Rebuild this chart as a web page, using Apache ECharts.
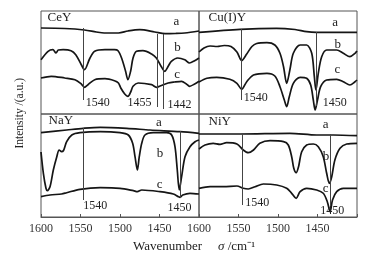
<!DOCTYPE html>
<html><head><meta charset="utf-8">
<script src="https://cdn.jsdelivr.net/npm/echarts@6/dist/echarts.min.js"></script>
<style>html,body{margin:0;padding:0;background:#fff}#c{width:377px;height:258px}</style>
</head><body><div id="c"></div>
<script>
// Wavenumber axis ticks
const tickValues = [1600, 1550, 1500, 1450];
const panelNames = ['CeY', 'Cu(I)Y', 'NaY', 'NiY'];
// [wavenumber, intensity (a.u.)]
const ceyA = [[1600,86],[1570,85.5],[1545,84],[1530,82],[1520,81],[1502,81],[1490,83],[1475,84.3],[1456,82],[1443,80.3],[1430,80.5],[1418,81],[1400,83]];
const ceyB = [[1600,54.3],[1591,62.7],[1585,64.3],[1581,61],[1578,64],[1572,64.3],[1562,63.3],[1556,59.3],[1549,49.3],[1545,44.3],[1538,56],[1532,62.7],[1519,64.3],[1507,64.3],[1502.5,63.3],[1498,56],[1493,43],[1490,34.3],[1486.5,43],[1483.5,56],[1479,62.7],[1471,63.3],[1460,60],[1454,56],[1448,47.7],[1443.4,42.7],[1439,47.7],[1435,52.7],[1427,56],[1418,54.3],[1412,51],[1405.5,53.3],[1400,56]];
const ceyC = [[1600,36],[1587,37.7],[1570,36],[1557,34.3],[1549,30],[1545,26.7],[1540.5,29.3],[1532,34.3],[1519,35.3],[1507,33.3],[1502,31],[1499,26],[1494,20],[1490,17.7],[1486.5,22],[1483.5,27.7],[1477,31],[1460,29.3],[1454,26.7],[1450,27.7],[1439,31],[1431,32],[1422,32.7],[1416,30],[1412,27.7],[1405.5,30],[1400,32.7]];
const cuyA = [[1600,81.7],[1548,84.7],[1502,85.7],[1478.5,84.5],[1463.7,82.3],[1451,81.7],[1400,81.7]];
const cuyB = [[1600,62],[1593.7,66],[1586,68],[1577,67.5],[1568,68.5],[1559.5,67.5],[1552,62],[1546,53.5],[1539.6,60],[1533,67.5],[1527,70.5],[1514,71.3],[1504,69],[1497.5,60.7],[1493,47.3],[1489,30.7],[1485,44],[1480.6,60.7],[1472,69],[1463.7,69],[1457.3,60.7],[1454,37.3],[1452,24],[1449,40.7],[1444.7,57.3],[1438.4,64],[1425.7,64],[1417.3,60.7],[1409,57.3],[1402.5,60.7],[1400,63]];
const cuyC = [[1600,32],[1590,35.7],[1577.6,36.7],[1561,34.7],[1552,30.7],[1546,24.7],[1539.6,32.3],[1531,39],[1514,40.7],[1504,38],[1497.5,27.3],[1492,14],[1489,7.3],[1485.7,17.3],[1480.6,30.7],[1472,36.7],[1463.7,35.7],[1458.6,29],[1455.3,14],[1453,4],[1450,14],[1446,27.3],[1438.4,34],[1425.7,34.7],[1417.3,32.3],[1409,29],[1402.5,32.3],[1400,34]];
const nayA = [[1600,84.3],[1567.5,87],[1546.5,88.7],[1525,89.7],[1491.5,88.7],[1462,87],[1424,85.3],[1400,83.7]];
const nayB = [[1600,65],[1597,43.7],[1593.7,28.7],[1592,26.3],[1588.6,30.3],[1584.4,47],[1580,60.3],[1577,67],[1574,65.3],[1571.5,66.5],[1567.5,75.3],[1561,82],[1550.6,84.3],[1525,85.3],[1500,84.3],[1489.5,82],[1484,73.7],[1481,60.3],[1478,47],[1475.6,60.3],[1472.5,73.7],[1468.4,82],[1458,84.3],[1441,84.3],[1434.6,82],[1430.4,70.3],[1427.5,47],[1425,27],[1422,40.3],[1417.7,60.3],[1411.4,70.3],[1405,75.3],[1400,77]];
const nayC = [[1600,20.3],[1588.6,22],[1574,23],[1567.5,24.3],[1550.6,27.7],[1525,29.3],[1500,28.7],[1483,26.3],[1478,25.3],[1472.5,27],[1449.4,25.3],[1432.5,23],[1426,20.3],[1424,19.7],[1420.6,22],[1411.4,23.7],[1400,23]];
const niyA = [[1600,83],[1548,83],[1485,83.7],[1451,82],[1430,82],[1400,81.3]];
const niyB = [[1600,68],[1592.4,72],[1582,73.7],[1573.4,72.7],[1565,74.3],[1552,73],[1544,67],[1537.6,64.3],[1531,67],[1523,73.7],[1510,76.3],[1493,75.3],[1487,72],[1482.7,60.3],[1480,48.7],[1477,44.3],[1474,50.3],[1470,65.3],[1463.7,72],[1455.3,73],[1449,70.3],[1442.7,60.3],[1438.4,43.7],[1435,33.7],[1432,40.3],[1428,57],[1421.5,68.7],[1413,73],[1400,73.7]];
const niyC = [[1600,28.7],[1586,30.3],[1569,30.3],[1552,31],[1544,28.7],[1537.6,28],[1529,30.3],[1518.6,33],[1501.6,32],[1489,28.7],[1482.7,23.7],[1477,18.7],[1472,25.3],[1463.7,28.7],[1451,27],[1442.7,23.7],[1437.6,15.3],[1434,5.3],[1431,17],[1425.7,25.3],[1417.3,28.7],[1400,28.7]];
// marker lines: [wavenumber, top, bottom]
const ceyLines = [[1546.5,86,14],[1453,80,7],[1445,80,5]];
const cuyLines = [[1546,85,14],[1452,82,8]];
const nayLines = [[1547,89,17],[1424,86,19]];
const niyLines = [[1545,83,12],[1434,83,5]];
// text annotations: [text, wavenumber, intensity]
const ceyTexts = [['CeY',1592.4,96],['a',1433,92],['b',1432,66],['c',1432,39],['1540',1544,11],['1455',1491,11],['1442',1440.5,9]];
const cuyTexts = [['Cu(I)Y',1588.6,96],['a',1432,91.3],['b',1429,69],['c',1429,44],['1540',1544,15.7],['1450',1444,11]];
const nayTexts = [['NaY',1591,96],['a',1455,94.3],['b',1454,63.7],['c',1454,32],['1540',1547,11],['1450',1440.5,9]];
const niyTexts = [['NiY',1588.6,95],['a',1444,92],['b',1444,60.3],['c',1444,28.7],['1540',1542,13.7],['1450',1447,6.3]];

const FONT = '"Liberation Serif","Times New Roman",serif';
const panels = [
  {a:ceyA,b:ceyB,c:ceyC,lines:ceyLines,texts:ceyTexts,left:41,top:11,bottom:false},
  {a:cuyA,b:cuyB,c:cuyC,lines:cuyLines,texts:cuyTexts,left:199,top:11,bottom:false},
  {a:nayA,b:nayB,c:nayC,lines:nayLines,texts:nayTexts,left:41,top:114,bottom:true},
  {a:niyA,b:niyB,c:niyC,lines:niyLines,texts:niyTexts,left:199,top:114,bottom:true}
];
const grid=[],xAxis=[],yAxis=[],series=[];
panels.forEach((p,i)=>{
  grid.push({left:p.left,top:p.top,width:158,height:103,show:true,borderColor:'#555',borderWidth:1,backgroundColor:'transparent'});
  xAxis.push({type:'value',gridIndex:i,min:1400,max:1600,interval:50,inverse:true,
    axisLine:{show:p.bottom,lineStyle:{color:'#555'}},
    axisTick:{show:p.bottom,inside:true,length:3,lineStyle:{color:'#555'}},
    axisLabel:{show:p.bottom,showMaxLabel:true,showMinLabel:true,hideOverlap:false,margin:6,fontSize:12,fontFamily:FONT,color:'#333',
      formatter:v=>tickValues.indexOf(v)>=0?String(v):''},
    splitLine:{show:false}});
  yAxis.push({type:'value',gridIndex:i,min:0,max:103,show:false,splitLine:{show:false}});
  const lineStyle={color:'#151515',width:1.7};
  ['a','b','c'].forEach((k,j)=>{
    const s={type:'line',xAxisIndex:i,yAxisIndex:i,data:p[k],showSymbol:false,smooth:0.3,lineStyle,animation:false,silent:true};
    if(j===0){
      s.markLine={silent:true,symbol:'none',animation:false,label:{show:false},
        lineStyle:{color:'#444',width:1,type:'solid'},
        data:p.lines.map(l=>[{coord:[l[0],l[1]]},{coord:[l[0],l[2]]}])};
      s.markPoint={silent:true,animation:false,symbol:'circle',symbolSize:1,itemStyle:{color:'rgba(0,0,0,0)'},
        label:{show:true,position:'right',distance:0,formatter:'{b}',color:'#222',fontFamily:FONT,fontSize:12},
        data:p.texts.map(t=>({name:t[0],coord:[t[1],t[2]],label:{fontSize:(t[0].length<=2||isNaN(+t[0]))?13:12}}))};
    }
    series.push(s);
  });
});
const chart=echarts.init(document.getElementById('c'),null,{renderer:'canvas'});
chart.setOption({animation:false,grid,xAxis,yAxis,series,
  graphic:[
    {type:'text',left:133,top:240,style:{text:'Wavenumber',font:'13px '+FONT,fill:'#222'}},
    {type:'text',left:218,top:240,style:{text:'{i|σ} /cm⁻¹',font:'13px '+FONT,fill:'#222',rich:{i:{fontStyle:'italic',fontSize:13,fontFamily:FONT}}}},
    {type:'text',left:14,top:78,rotation:Math.PI/2,style:{text:'Intensity /(a.u.)',font:'11.5px '+FONT,fill:'#222'}}
  ]});
</script></body></html>
